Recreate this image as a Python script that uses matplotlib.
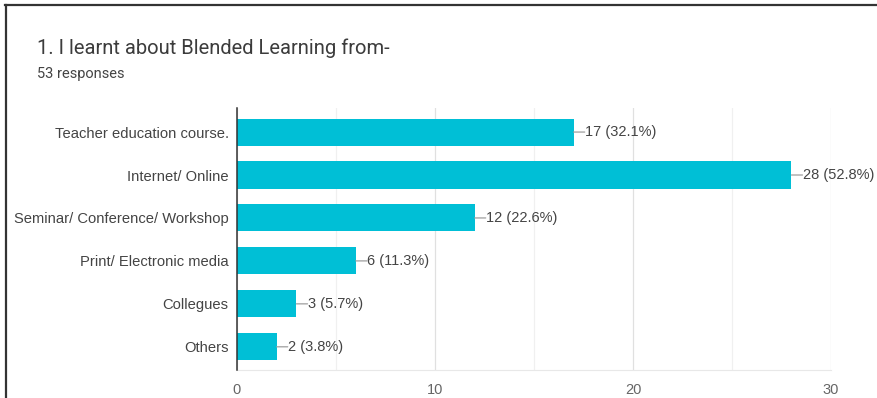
import matplotlib
matplotlib.use("Agg")
import matplotlib.pyplot as plt
import matplotlib.ticker as ticker
from matplotlib.lines import Line2D

categories = [
    "Teacher education course.",
    "Internet/ Online",
    "Seminar/ Conference/ Workshop",
    "Print/ Electronic media",
    "Collegues",
    "Others",
]
counts = [17, 28, 12, 6, 3, 2]
percents = [32.1, 52.8, 22.6, 11.3, 5.7, 3.8]
total_responses = 53
x_ticks = [0, 10, 20, 30]

BAR_COLOR = "#00BFD6"
W, H = 877, 398

fig = plt.figure(figsize=(W / 100, H / 100), dpi=100)
fig.patch.set_facecolor("white")

# axes box in pixels: x 237..831, y 108..370
ax = fig.add_axes([237 / W, 1 - 370 / H, (831 - 237) / W, (370 - 108) / H])

ypos = list(range(len(categories)))
ax.barh(ypos, counts, height=0.63, color=BAR_COLOR, zorder=3)

for y, c, p in zip(ypos, counts, percents):
    # short connector from bar end, then the label right after it
    ax.annotate(
        "", xy=(c, y), xytext=(8, 0), textcoords="offset points",
        arrowprops=dict(arrowstyle="-", color="#9e9e9e", lw=0.9, shrinkA=0, shrinkB=0),
        zorder=4,
    )
    ax.annotate(
        f"{c} ({p}%)",
        xy=(c, y),
        xytext=(8.3, 0),
        textcoords="offset points",
        ha="left",
        va="center",
        fontsize=10.5,
        color="#444444",
        family="Liberation Sans",
        zorder=4,
    )

ax.set_xlim(0, 30)
ax.set_ylim(len(categories) - 0.46, -0.56)
ax.set_yticks(ypos)
ax.set_yticklabels(categories, fontsize=10.6, color="#444444", family="Liberation Sans")
ax.set_xticks(x_ticks)
ax.set_xticklabels([str(t) for t in x_ticks], fontsize=10.5, color="#666666", family="Liberation Sans")
ax.xaxis.set_minor_locator(ticker.MultipleLocator(5))
ax.tick_params(axis="both", which="both", length=0)
ax.tick_params(axis="x", pad=9)
ax.tick_params(axis="y", pad=6)

ax.grid(axis="x", which="major", color="#e0e0e0", lw=0.9, zorder=0)
ax.grid(axis="x", which="minor", color="#f0f0f0", lw=0.9, zorder=0)

for s in ["top", "right"]:
    ax.spines[s].set_visible(False)
ax.spines["bottom"].set_color("#e8e8e8")
ax.spines["left"].set_color("#333333")
ax.spines["left"].set_linewidth(1.1)
ax.spines["left"].set_zorder(5)

fig.text(37 / W, 1 - 54 / H, "1. I learnt about Blended Learning from-",
         fontsize=14.5, color="#3c3c3c", family="Roboto", va="baseline")
fig.text(37 / W, 1 - 78 / H, f"{total_responses} responses",
         fontsize=10.5, color="#444444", family="Roboto", va="baseline")

# screenshot frame (top and left edges)
fig.add_artist(Line2D([5 / W, 1], [1 - 5 / H, 1 - 5 / H], color="#333333", lw=1.6))
fig.add_artist(Line2D([5.5 / W, 5.5 / W], [0, 1 - 5 / H], color="#333333", lw=1.6))

fig.savefig("out.png", dpi=100)
